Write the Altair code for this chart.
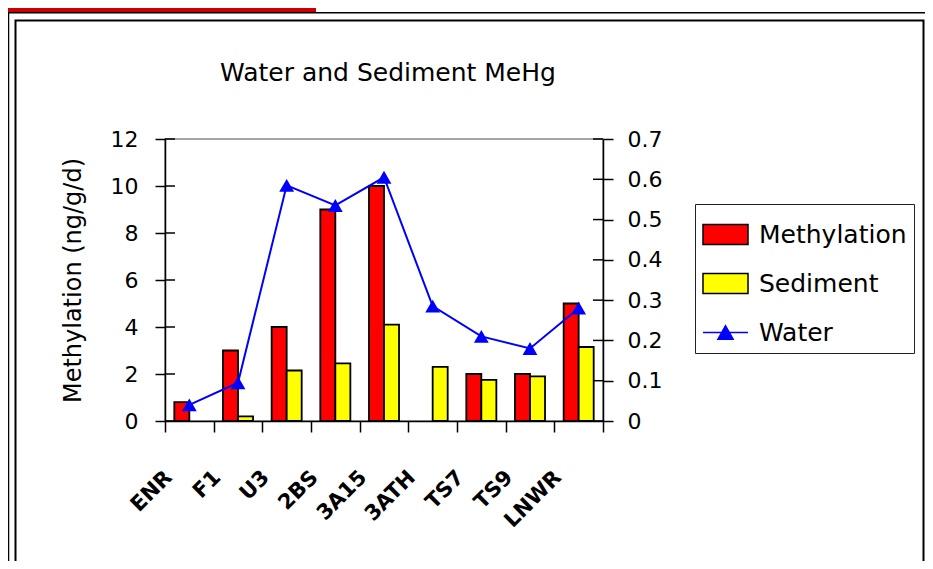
import altair as alt
import pandas as pd

categories = ["ENR", "F1", "U3", "2BS", "3A15", "3ATH", "TS7", "TS9", "LNWR"]
methylation = [0.8, 3.0, 4.0, 9.0, 10.0, None, 2.0, 2.0, 5.0]
sediment = [None, 0.2, 2.15, 2.45, 4.1, 2.3, 1.75, 1.9, 3.15]
water = [0.04, 0.095, 0.585, 0.535, 0.605, 0.285, 0.21, 0.18, 0.28]
series = ["Methylation", "Sediment", "Water"]
series_colors = ["#FF0000", "#FFFF00", "#0000FF"]
left_ticks = [0, 2, 4, 6, 8, 10, 12]
right_ticks = [0, 0.1, 0.2, 0.3, 0.4, 0.5, 0.6, 0.7]
title_text = "Water and Sediment MeHg"
y_title = "Methylation (ng/g/d)"

W, H = 438, 282
FONT = "DejaVu Sans"

rows = []
for c, m, s in zip(categories, methylation, sediment):
    if m is not None:
        rows.append({"cat": c, "series": "Methylation", "value": m})
    if s is not None:
        rows.append({"cat": c, "series": "Sediment", "value": s})
bars_df = pd.DataFrame(rows)
water_df = pd.DataFrame({"cat": categories, "water": water})

xenc = alt.X(
    "cat:N",
    sort=categories,
    scale=alt.Scale(domain=categories, paddingInner=0, paddingOuter=0),
    axis=alt.Axis(
        title=None, tickBand="extent", labelAngle=-45, labelAlign="right",
        labelBaseline="middle", labelOffset=-21, labelPadding=42, tickSize=11,
        labelFont=FONT, labelFontSize=21, labelFontWeight="bold",
    ),
)

yl = alt.Y(
    "value:Q",
    scale=alt.Scale(domain=[0, 12], nice=False),
    axis=alt.Axis(
        values=left_ticks, format="d", title=y_title,
        labelFontSize=22, labelPadding=17, tickSize=10,
        titleFont=FONT, titleFontSize=24, titleFontWeight="normal", titlePadding=25,
    ),
)

bars = alt.Chart(bars_df).mark_bar(stroke="black", strokeWidth=1.8).encode(
    x=xenc,
    xOffset=alt.XOffset(
        "series:N",
        scale=alt.Scale(domain=["Methylation", "Sediment"], paddingInner=0, paddingOuter=0.62),
    ),
    y=yl,
    color=alt.Color(
        "series:N",
        scale=alt.Scale(domain=["Methylation", "Sediment"], range=series_colors[:2]),
        legend=None,
    ),
)

lticks = alt.Chart(pd.DataFrame({"value": left_ticks})).mark_rule(color="black", strokeWidth=1.5).encode(
    y=yl, x=alt.value(0), x2=alt.value(10)
)

yr = alt.Y(
    "water:Q",
    scale=alt.Scale(domain=[0, 0.7], nice=False),
    axis=alt.Axis(
        orient="right", values=right_ticks, format="~g", title=None,
        labelFontSize=22, labelPadding=14, tickSize=10,
    ),
)

line = alt.Chart(water_df).mark_line(color="#0000FF", strokeWidth=2).encode(x=xenc, y=yr)
points = alt.Chart(water_df).mark_point(
    shape="triangle-up", filled=True, size=220, color="#0000FF", opacity=1
).encode(x=xenc, y=yr)

rticks = alt.Chart(pd.DataFrame({"water": right_ticks})).mark_rule(color="black", strokeWidth=1.5).encode(
    y=yr, x=alt.value(W - 10), x2=alt.value(W)
)

rect_path = "M-1,-0.44 H1 V0.44 H-1 Z"
tri_path = "M-1,0 H1 M-0.34,0.3 L0,-0.3 L0.34,0.3 Z"
leg = alt.Legend(
    title=None, orient="none", legendX=530, legendY=65, padding=7,
    strokeColor="#222", fillColor="white", symbolSize=2025, symbolStrokeWidth=1.5,
    labelFont=FONT, labelFontSize=25, labelColor="black", labelOffset=10,
    rowPadding=12, labelLimit=300,
)
legend_df = pd.DataFrame({"series": series, "water": [None, None, None]})
legend_layer = alt.Chart(legend_df).mark_point(filled=True, strokeWidth=1.5, opacity=1).encode(
    y=yr,
    fill=alt.Fill("series:N", scale=alt.Scale(domain=series, range=series_colors), legend=leg),
    stroke=alt.Stroke("series:N", scale=alt.Scale(domain=series, range=["black", "black", "#0000FF"]), legend=leg),
    shape=alt.Shape("series:N", scale=alt.Scale(domain=series, range=[rect_path, rect_path, tri_path]), legend=leg),
)

one = pd.DataFrame({"a": [0]})
title_mark = alt.Chart(one).mark_text(
    text=title_text, font=FONT, fontSize=25, color="black", align="center", baseline="alphabetic"
).encode(x=alt.value(223), y=alt.value(-58))
frame = alt.Chart(one).mark_rect(fillOpacity=0, stroke="black", strokeWidth=2).encode(
    x=alt.value(-149.5), x2=alt.value(758.5), y=alt.value(-118.5), y2=alt.value(470)
)
red_bar = alt.Chart(one).mark_rule(color="#CC0000", strokeWidth=4).encode(
    x=alt.value(-157), x2=alt.value(151), y=alt.value(-129)
)
top_line = alt.Chart(one).mark_rule(color="black", strokeWidth=1.5).encode(
    x=alt.value(-157), x2=alt.value(760), y=alt.value(-126.25)
)
left_line = alt.Chart(one).mark_rule(color="black", strokeWidth=1.5).encode(
    x=alt.value(-156.5), y=alt.value(-126), y2=alt.value(470)
)

left = alt.layer(bars, lticks)
right = alt.layer(line, points, rticks, legend_layer)

chart = alt.layer(left, right, title_mark, frame, red_bar, top_line, left_line).resolve_scale(
    y="independent"
).properties(
    width=W, height=H,
    autosize=alt.AutoSizeParams(type="none"),
    padding={"left": 157, "top": 131, "right": 322, "bottom": 140},
).configure_axis(
    domainColor="black", tickColor="black", labelColor="black", titleColor="black",
    grid=False, domainWidth=1.5, tickWidth=1.5, labelFont=FONT,
).configure_view(stroke="#888", strokeWidth=1.5)

chart.save("out.html", embed_options={"renderer": "svg", "actions": False})
